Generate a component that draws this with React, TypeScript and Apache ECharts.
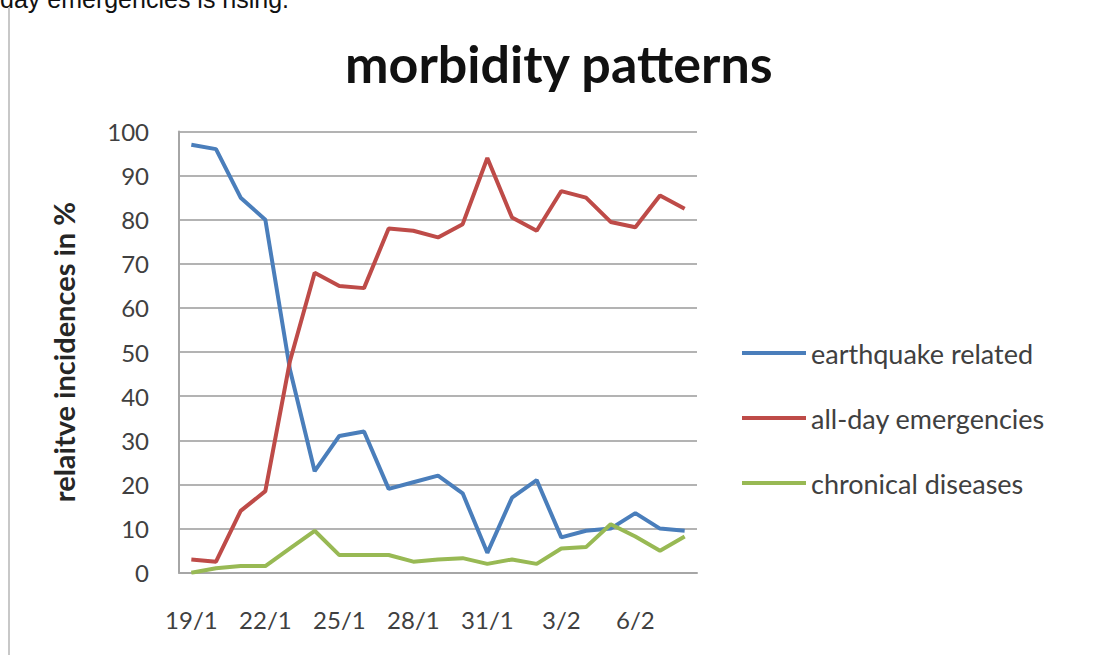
import React, { useEffect, useRef } from "react";
import * as echarts from "echarts";

const categories = [
  "19/1", "20/1", "21/1", "22/1", "23/1", "24/1", "25/1", "26/1", "27/1", "28/1",
  "29/1", "30/1", "31/1", "1/2", "2/2", "3/2", "4/2", "5/2", "6/2", "7/2", "8/2",
];
const earthquakeRelated = [97, 96, 85, 80, 46, 23, 31, 32, 19, 20.5, 22, 18, 4.5, 17, 21, 8, 9.5, 10, 13.5, 10, 9.5];
const allDayEmergencies = [3, 2.5, 14, 18.5, 48, 68, 65, 64.5, 78, 77.5, 76, 79, 94, 80.5, 77.5, 86.5, 85, 79.5, 78.3, 85.5, 82.5];
const chronicalDiseases = [0, 1, 1.5, 1.5, 5.5, 9.5, 4, 4, 4, 2.5, 3, 3.3, 2, 3, 2, 5.5, 5.8, 11, 8.2, 5, 8.2];

const seriesNames = ["earthquake related", "all-day emergencies", "chronical diseases"];
const seriesColors = ["#4A7EBB", "#BE4B48", "#98B954"];

export default function App() {
  const ref = useRef<HTMLDivElement>(null);
  useEffect(() => {
    if (!ref.current) return;
    const chart = echarts.init(ref.current, undefined, { renderer: "svg" });
    const values = [earthquakeRelated, allDayEmergencies, chronicalDiseases];
    chart.setOption({
      animation: false,
      backgroundColor: "#ffffff",
      title: {
        text: "morbidity patterns",
        left: 340,
        top: 32,
        textStyle: {
          fontFamily: "Lato",
          fontWeight: "bold",
          fontSize: 52,
          lineHeight: 52,
          color: "#111111",
        },
      },
      legend: {
        orient: "vertical",
        left: 742,
        top: 338,
        padding: 0,
        icon: "rect",
        itemWidth: 64,
        itemHeight: 4,
        itemGap: 35,
        textStyle: {
          fontFamily: "Lato",
          fontSize: 27,
          lineHeight: 30,
          color: "#404040",
        },
        data: seriesNames,
      },
      grid: {
        left: 179,
        right: 399,
        top: 131.5,
        bottom: 82.3,
        containLabel: false,
      },
      xAxis: {
        type: "category",
        data: categories,
        boundaryGap: true,
        axisLine: { show: true, lineStyle: { color: "#a6a6a6", width: 2 } },
        axisTick: { show: false },
        axisLabel: {
          interval: 2,
          margin: 35,
          fontFamily: "Lato",
          fontSize: 24,
          lineHeight: 24,
          color: "#404040",
        },
        splitLine: { show: false },
      },
      yAxis: {
        type: "value",
        min: 0,
        max: 100,
        interval: 10,
        name: "relaitve incidences in %",
        nameLocation: "middle",
        nameGap: 101,
        nameTextStyle: {
          fontFamily: "Lato",
          fontWeight: "bold",
          fontSize: 29,
          color: "#262626",
        },
        axisLine: { show: true, lineStyle: { color: "#a6a6a6", width: 2 } },
        axisTick: { show: false },
        axisLabel: {
          margin: 30,
          fontFamily: "Lato",
          fontSize: 24,
          color: "#404040",
        },
        splitLine: { show: true, lineStyle: { color: "#b3b3b3", width: 2 } },
      },
      series: seriesNames.map((name, i) => ({
        name,
        type: "line",
        data: values[i],
        symbol: "none",
        smooth: false,
        itemStyle: { color: seriesColors[i] },
        lineStyle: { color: seriesColors[i], width: 4 },
      })),
      graphic: [
        {
          type: "text",
          x: 0,
          y: -1,
          style: {
            text: "day emergencies is rising.",
            font: '25px "Liberation Sans"',
            fill: "#111111",
            verticalAlign: "middle",
            align: "left",
          },
        },
        {
          type: "line",
          shape: { x1: 9, y1: 7, x2: 9, y2: 655 },
          style: { stroke: "#c8c8c8", lineWidth: 2 },
        },
      ],
    });
    return () => chart.dispose();
  }, []);
  return (
    <div
      ref={ref}
      style={{ position: "fixed", left: 0, top: 0, width: 1096, height: 655 }}
    />
  );
}
